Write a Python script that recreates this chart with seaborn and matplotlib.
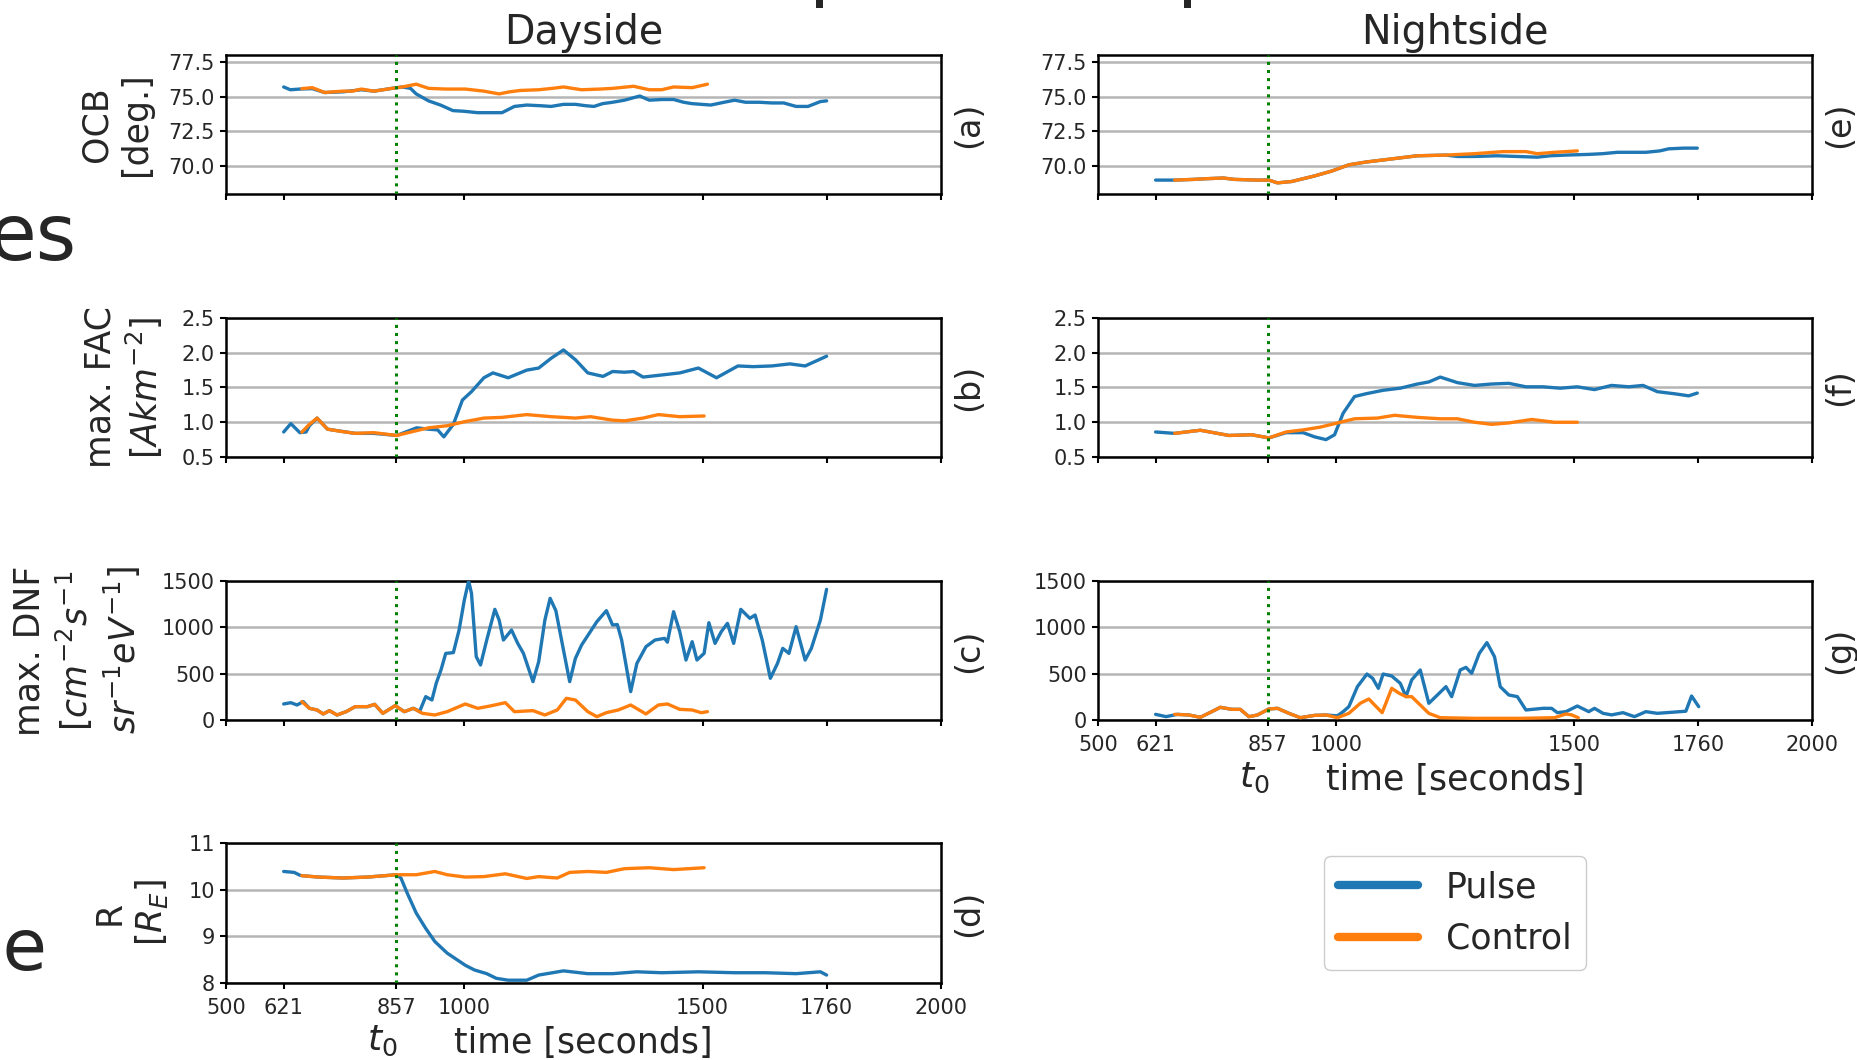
import numpy as np
import pandas as pd
import matplotlib
matplotlib.use("Agg")
import matplotlib.pyplot as plt
from matplotlib.lines import Line2D
import seaborn as sns

# ---------------- data ----------------
xticks = [500, 621, 857, 1000, 1500, 1760, 2000]
t0 = 857

# Dayside OCB
day_ocb_pulse_t = [621, 635, 655, 681, 707, 745, 784, 810, 848, 870, 887, 899, 925, 950, 976, 1000, 1028, 1055, 1079, 1105, 1131, 1160, 1182, 1208, 1233, 1255, 1272, 1290, 1311, 1336, 1368, 1388, 1415, 1439, 1460, 1478, 1517, 1545, 1567, 1590, 1619, 1645, 1670, 1696, 1721, 1747, 1760]
day_ocb_pulse_v = [75.7, 75.5, 75.55, 75.58, 75.3, 75.35, 75.5, 75.4, 75.6, 75.7, 75.6, 75.2, 74.7, 74.4, 74.0, 73.95, 73.85, 73.85, 73.85, 74.3, 74.4, 74.35, 74.3, 74.45, 74.45, 74.35, 74.3, 74.5, 74.6, 74.75, 75.05, 74.75, 74.8, 74.8, 74.6, 74.5, 74.4, 74.6, 74.75, 74.6, 74.6, 74.55, 74.55, 74.3, 74.3, 74.65, 74.7]
day_ocb_ctrl_t = [659, 681, 707, 725, 745, 765, 784, 810, 830, 848, 870, 899, 925, 960, 1002, 1041, 1073, 1095, 1118, 1156, 1185, 1208, 1246, 1285, 1311, 1355, 1388, 1414, 1439, 1478, 1510]
day_ocb_ctrl_v = [75.58, 75.65, 75.3, 75.35, 75.4, 75.4, 75.55, 75.4, 75.5, 75.6, 75.7, 75.9, 75.6, 75.55, 75.55, 75.4, 75.2, 75.35, 75.45, 75.5, 75.6, 75.7, 75.5, 75.55, 75.6, 75.75, 75.5, 75.5, 75.7, 75.65, 75.9]

# Nightside OCB
night_ocb_pulse_t = [621, 661, 700, 727, 763, 787, 835, 859, 877, 907, 955, 991, 1027, 1063, 1111, 1171, 1231, 1255, 1291, 1339, 1380, 1423, 1450, 1483, 1531, 1560, 1591, 1651, 1680, 1699, 1730, 1759]
night_ocb_pulse_v = [69.0, 69.0, 69.05, 69.1, 69.15, 69.05, 69.0, 69.0, 68.8, 68.9, 69.3, 69.65, 70.1, 70.3, 70.5, 70.75, 70.8, 70.7, 70.7, 70.75, 70.7, 70.65, 70.75, 70.8, 70.85, 70.9, 71.0, 71.0, 71.1, 71.25, 71.3, 71.3]
night_ocb_ctrl_t = [661, 700, 727, 763, 787, 835, 859, 877, 907, 955, 991, 1027, 1063, 1111, 1171, 1231, 1291, 1351, 1399, 1423, 1459, 1507]
night_ocb_ctrl_v = [69.0, 69.05, 69.1, 69.15, 69.05, 69.0, 69.0, 68.8, 68.9, 69.3, 69.65, 70.1, 70.3, 70.5, 70.75, 70.8, 70.9, 71.05, 71.05, 70.9, 71.0, 71.1]

# Dayside max FAC
day_fac_pulse_t = [621, 636, 655, 668, 675, 691, 713, 771, 810, 858, 900, 925, 944, 957, 977, 996, 1015, 1041, 1060, 1092, 1131, 1156, 1182, 1208, 1233, 1259, 1291, 1311, 1336, 1355, 1375, 1414, 1452, 1491, 1529, 1574, 1606, 1645, 1683, 1715, 1760]
day_fac_pulse_v = [0.86, 0.98, 0.85, 0.86, 0.95, 1.06, 0.9, 0.84, 0.84, 0.81, 0.92, 0.9, 0.89, 0.79, 0.97, 1.32, 1.44, 1.64, 1.71, 1.64, 1.75, 1.78, 1.92, 2.04, 1.9, 1.71, 1.66, 1.73, 1.72, 1.73, 1.65, 1.68, 1.71, 1.78, 1.64, 1.81, 1.80, 1.81, 1.84, 1.81, 1.95]
day_fac_ctrl_t = [659, 675, 691, 713, 740, 771, 810, 858, 900, 925, 964, 1002, 1041, 1079, 1131, 1182, 1233, 1265, 1311, 1336, 1375, 1407, 1452, 1503]
day_fac_ctrl_v = [0.857, 0.97, 1.06, 0.9, 0.87, 0.84, 0.85, 0.81, 0.88, 0.92, 0.95, 1.01, 1.06, 1.07, 1.11, 1.08, 1.06, 1.08, 1.03, 1.02, 1.06, 1.11, 1.08, 1.09]

# Nightside max FAC
night_fac_pulse_t = [621, 661, 715, 775, 823, 859, 895, 931, 955, 979, 997, 1015, 1039, 1063, 1099, 1135, 1171, 1195, 1219, 1255, 1291, 1327, 1363, 1399, 1435, 1471, 1507, 1543, 1579, 1615, 1645, 1675, 1711, 1741, 1759]
night_fac_pulse_v = [0.86, 0.84, 0.885, 0.81, 0.82, 0.775, 0.85, 0.85, 0.79, 0.75, 0.82, 1.13, 1.37, 1.41, 1.46, 1.49, 1.55, 1.58, 1.65, 1.57, 1.53, 1.55, 1.56, 1.51, 1.51, 1.49, 1.51, 1.47, 1.53, 1.51, 1.53, 1.44, 1.41, 1.38, 1.42]
night_fac_ctrl_t = [661, 715, 775, 823, 859, 895, 931, 967, 1003, 1039, 1087, 1123, 1171, 1219, 1255, 1291, 1327, 1363, 1411, 1459, 1507]
night_fac_ctrl_v = [0.84, 0.885, 0.81, 0.82, 0.775, 0.86, 0.89, 0.93, 0.99, 1.05, 1.06, 1.1, 1.07, 1.05, 1.05, 1.0, 0.97, 0.99, 1.04, 1.0, 1.0]

# Dayside max DNF
day_dnf_pulse_t = [621, 636, 649, 662, 675, 691, 704, 717, 733, 752, 771, 797, 812, 829, 855, 874, 893, 900, 906, 919, 932, 941, 951, 961, 977, 989, 1000, 1009, 1015, 1025, 1034, 1047, 1064, 1073, 1082, 1099, 1112, 1124, 1144, 1156, 1169, 1180, 1192, 1208, 1221, 1233, 1246, 1262, 1278, 1298, 1311, 1321, 1330, 1349, 1362, 1381, 1400, 1420, 1426, 1439, 1452, 1465, 1478, 1488, 1503, 1513, 1526, 1539, 1552, 1565, 1580, 1599, 1610, 1625, 1642, 1657, 1668, 1681, 1696, 1715, 1728, 1747, 1760]
day_dnf_pulse_v = [173, 187, 162, 198, 126, 108, 65, 101, 54, 90, 144, 144, 169, 72, 155, 90, 126, 110, 90, 252, 216, 396, 540, 719, 727, 971, 1295, 1500, 1367, 683, 594, 863, 1194, 1079, 863, 971, 827, 719, 414, 629, 1079, 1313, 1180, 755, 414, 665, 809, 935, 1061, 1180, 1025, 1030, 863, 306, 611, 791, 863, 881, 840, 1169, 953, 647, 845, 647, 719, 1050, 827, 953, 1043, 827, 1194, 1097, 1133, 863, 450, 611, 773, 719, 1007, 647, 773, 1079, 1410]
day_dnf_ctrl_t = [659, 675, 691, 704, 717, 733, 752, 771, 797, 812, 829, 855, 874, 893, 912, 938, 964, 1002, 1028, 1054, 1086, 1105, 1144, 1169, 1195, 1214, 1233, 1259, 1278, 1298, 1323, 1349, 1381, 1407, 1426, 1452, 1478, 1497, 1510]
day_dnf_ctrl_v = [198, 126, 108, 65, 101, 54, 90, 144, 144, 169, 72, 155, 90, 126, 72, 54, 90, 173, 126, 151, 187, 90, 101, 54, 108, 234, 216, 90, 36, 79, 108, 162, 65, 162, 173, 115, 108, 79, 90]

# Nightside max DNF
night_dnf_pulse_t = [621, 643, 667, 691, 715, 739, 757, 781, 799, 817, 835, 859, 877, 901, 925, 955, 979, 1003, 1015, 1027, 1045, 1065, 1077, 1089, 1099, 1117, 1135, 1147, 1159, 1177, 1195, 1213, 1231, 1243, 1261, 1273, 1285, 1301, 1317, 1333, 1345, 1363, 1381, 1399, 1435, 1453, 1465, 1483, 1507, 1531, 1543, 1561, 1579, 1603, 1627, 1651, 1675, 1723, 1735, 1747, 1762]
night_dnf_pulse_v = [61, 36, 61, 54, 29, 90, 137, 115, 115, 36, 54, 119, 126, 72, 25, 50, 54, 45, 90, 144, 360, 496, 450, 342, 496, 475, 396, 252, 432, 540, 180, 270, 360, 252, 540, 568, 504, 719, 835, 683, 360, 270, 252, 108, 126, 126, 79, 90, 151, 90, 126, 72, 55, 79, 36, 90, 72, 90, 95, 259, 144]
night_dnf_ctrl_t = [661, 691, 715, 739, 757, 781, 799, 817, 835, 859, 877, 901, 925, 955, 979, 1003, 1027, 1051, 1069, 1081, 1097, 1117, 1133, 1147, 1159, 1177, 1195, 1219, 1291, 1387, 1459, 1483, 1495, 1509]
night_dnf_ctrl_v = [61, 54, 29, 90, 137, 115, 115, 36, 54, 119, 126, 72, 25, 50, 54, 25, 72, 180, 227, 162, 79, 342, 288, 252, 252, 162, 72, 25, 18, 18, 25, 65, 55, 25]

# Dayside R
day_r_pulse_t = [621, 643, 655, 659, 694, 745, 797, 858, 867, 880, 899, 919, 938, 964, 983, 1002, 1021, 1047, 1067, 1092, 1131, 1156, 1208, 1259, 1311, 1362, 1414, 1491, 1567, 1632, 1696, 1747, 1760]
day_r_pulse_v = [10.39, 10.37, 10.31, 10.3, 10.27, 10.25, 10.27, 10.32, 10.25, 9.93, 9.5, 9.17, 8.89, 8.64, 8.51, 8.38, 8.28, 8.2, 8.1, 8.06, 8.06, 8.17, 8.26, 8.2, 8.2, 8.24, 8.22, 8.24, 8.22, 8.22, 8.2, 8.24, 8.17]
day_r_ctrl_t = [659, 694, 745, 797, 858, 899, 938, 964, 1002, 1041, 1086, 1131, 1156, 1195, 1221, 1259, 1298, 1336, 1388, 1439, 1503]
day_r_ctrl_v = [10.3, 10.27, 10.25, 10.27, 10.32, 10.32, 10.39, 10.32, 10.27, 10.28, 10.34, 10.24, 10.28, 10.25, 10.37, 10.39, 10.37, 10.45, 10.47, 10.43, 10.47]

series_names = ["Pulse", "Control"]

# ---------------- style ----------------
sns.set_style("ticks")
plt.rcParams["font.family"] = ["DejaVu Sans"]
plt.rcParams["mathtext.fontset"] = "dejavusans"

C_PULSE = "#1f77b4"
C_CTRL = "#ff7f0e"

W, H = 1857, 1060
fig = plt.figure(figsize=(W / 100, H / 100), dpi=100)


def box(left, top, right, bottom):
    return [left / W, 1 - bottom / H, (right - left) / W, (bottom - top) / H]


rows = [(55, 194), (318, 457), (581, 720), (843, 983)]
day_lr = (226, 941)
night_lr = (1098, 1812)

panels = [
    ("day", 0, day_ocb_pulse_t, day_ocb_pulse_v, day_ocb_ctrl_t, day_ocb_ctrl_v, (68, 78), [70.0, 72.5, 75.0, 77.5], "(a)", "OCB\n[deg.]", -0.102),
    ("day", 1, day_fac_pulse_t, day_fac_pulse_v, day_fac_ctrl_t, day_fac_ctrl_v, (0.5, 2.5), [0.5, 1.0, 1.5, 2.0, 2.5], "(b)", "max. FAC\n[$Akm^{-2}$]", -0.085),
    ("day", 2, day_dnf_pulse_t, day_dnf_pulse_v, day_dnf_ctrl_t, day_dnf_ctrl_v, (0, 1500), [0, 500, 1000, 1500], "(c)", "max. DNF\n[$cm^{-2}s^{-1}$\n$sr^{-1}eV^{-1}$]", -0.116),
    ("day", 3, day_r_pulse_t, day_r_pulse_v, day_r_ctrl_t, day_r_ctrl_v, (8, 11), [8, 9, 10, 11], "(d)", "R\n[$R_E$]", -0.079),
    ("night", 0, night_ocb_pulse_t, night_ocb_pulse_v, night_ocb_ctrl_t, night_ocb_ctrl_v, (68, 78), [70.0, 72.5, 75.0, 77.5], "(e)", None, None),
    ("night", 1, night_fac_pulse_t, night_fac_pulse_v, night_fac_ctrl_t, night_fac_ctrl_v, (0.5, 2.5), [0.5, 1.0, 1.5, 2.0, 2.5], "(f)", None, None),
    ("night", 2, night_dnf_pulse_t, night_dnf_pulse_v, night_dnf_ctrl_t, night_dnf_ctrl_v, (0, 1500), [0, 500, 1000, 1500], "(g)", None, None),
]

for col, row, pt, pv, ct, cv, ylim, yt, letter, ylabel, lx in panels:
    lr = day_lr if col == "day" else night_lr
    top, bot = rows[row]
    ax = fig.add_axes(box(lr[0], top, lr[1], bot))
    ax.grid(axis="y", color="#b5b5b5", lw=1.8, zorder=0)
    ax.set_axisbelow(True)
    sns.lineplot(x=pt, y=pv, ax=ax, color=C_PULSE, lw=2.4, legend=False, zorder=3)
    sns.lineplot(x=ct, y=cv, ax=ax, color=C_CTRL, lw=2.4, legend=False, zorder=4)
    ax.axvline(t0, color="green", ls=":", lw=2.2, zorder=5)
    ax.set_xlim(500, 2000)
    ax.set_ylim(*ylim)
    ax.set_yticks(yt)
    if ylim in [(68, 78), (0.5, 2.5)]:
        ax.set_yticklabels([f"{v:.1f}" for v in yt])
    else:
        ax.set_yticklabels([f"{v:g}" for v in yt])
    ax.set_xticks(xticks)
    ax.set_xticklabels([str(v) for v in xticks])
    ax.tick_params(labelsize=15, width=1.5, length=4.5, color="black")
    ax.tick_params(axis="x", pad=6)
    for s in ax.spines.values():
        s.set_linewidth(1.8)
        s.set_color("black")
    ax.set_xlabel("")
    ax.set_ylabel("")
    ax.annotate(letter, xy=(1, 0.5), xycoords="axes fraction", xytext=(20, 0),
                textcoords="offset points", rotation=90, va="center", ha="center", fontsize=24)
    if ylabel is not None:
        ax.set_ylabel(ylabel, fontsize=25)
        ax.yaxis.set_label_coords(lx, 0.5)
    last = (col == "day" and row == 3) or (col == "night" and row == 2)
    if last:
        ax.set_xlabel("time [seconds]", fontsize=25, labelpad=6)
        ax.annotate("$t_0$", xy=(t0, 0), xycoords=("data", "axes fraction"), xytext=(-10, -42),
                    textcoords="offset points", ha="center", va="center", fontsize=26)
    else:
        ax.tick_params(labelbottom=False)
    if row == 0:
        ax.set_title("Dayside" if col == "day" else "Nightside", fontsize=28.5, pad=8)

# legend in the empty bottom-right slot
ax_leg = fig.add_axes(box(night_lr[0], rows[3][0], night_lr[1], rows[3][1]))
ax_leg.axis("off")
handles = [Line2D([], [], color=C_PULSE, lw=6), Line2D([], [], color=C_CTRL, lw=6)]
ax_leg.legend(handles, series_names, loc="center", fontsize=25, handlelength=2.3,
              frameon=True, fancybox=True, edgecolor="0.8", framealpha=1)

# stray fragments of the surrounding slide
fig.text(-0.006, 1 - 260 / H, "es", fontsize=56, ha="left", va="baseline")
fig.text(47 / W, 1 - 970 / H, "ee", fontsize=52, ha="right", va="baseline")
fig.text(808.8 / W, 1 + 8 / H, "p", fontsize=56, ha="left", va="baseline")
fig.text(1176.8 / W, 1 + 8 / H, "p", fontsize=56, ha="left", va="baseline")

fig.savefig("out.png", dpi=100)
